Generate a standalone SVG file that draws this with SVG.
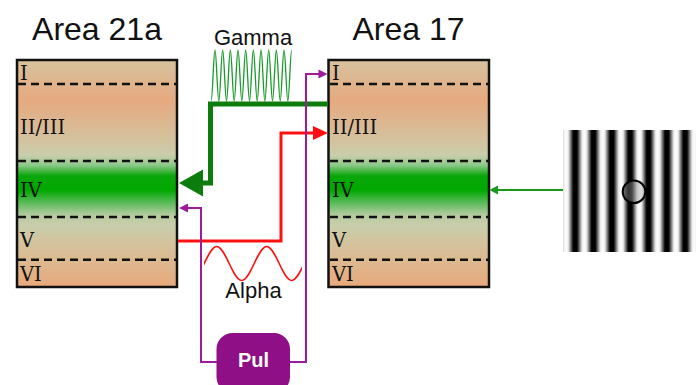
<svg xmlns="http://www.w3.org/2000/svg" width="696" height="385" viewBox="0 0 696 385">
<style>
.title{font-family:"Liberation Sans",Arial,sans-serif;font-size:32px;fill:#111;text-anchor:middle}
.lbl{font-family:"Liberation Sans",Arial,sans-serif;font-size:22px;fill:#111;text-anchor:middle}
.layer{font-family:"DejaVu Serif","Liberation Serif",serif;font-size:19.5px;fill:#111}
.box{stroke:#111;stroke-width:2.5}
.dash{stroke:#111;stroke-width:2.5;stroke-dasharray:8 5;fill:none}
.purple{stroke:#9c1c9c;stroke-width:2;fill:none}
</style>
<defs>
<linearGradient id="cortex" x1="0" y1="0" x2="0" y2="1">
<stop offset="0" stop-color="#d6c39e"/>
<stop offset="0.176" stop-color="#e6a980"/>
<stop offset="0.352" stop-color="#d4c29e"/>
<stop offset="0.42" stop-color="#c9cdab"/>
<stop offset="0.463" stop-color="#8ec98a"/>
<stop offset="0.51" stop-color="#0aa60a"/>
<stop offset="0.573" stop-color="#00a800"/>
<stop offset="0.63" stop-color="#5cbc5c"/>
<stop offset="0.683" stop-color="#b5cba0"/>
<stop offset="0.727" stop-color="#c9cdab"/>
<stop offset="0.837" stop-color="#d8bf98"/>
<stop offset="1" stop-color="#e8a97c"/>
</linearGradient>
<linearGradient id="stripe" x1="0" y1="0" x2="1" y2="0">
<stop offset="0" stop-color="#fff"/>
<stop offset="0.12" stop-color="#eee"/>
<stop offset="0.3" stop-color="#555"/>
<stop offset="0.4" stop-color="#000"/>
<stop offset="0.6" stop-color="#000"/>
<stop offset="0.7" stop-color="#555"/>
<stop offset="0.88" stop-color="#eee"/>
<stop offset="1" stop-color="#fff"/>
</linearGradient>
<pattern id="grat" patternUnits="userSpaceOnUse" x="566" y="130" width="18.33" height="122">
<rect x="0" y="0" width="18.33" height="122" fill="url(#stripe)"/>
</pattern>
<linearGradient id="spot" x1="0" y1="0" x2="1" y2="0">
<stop offset="0" stop-color="#222"/>
<stop offset="1" stop-color="#eee"/>
</linearGradient>
<clipPath id="alphaclip"><rect x="204" y="230" width="98" height="60"/></clipPath>
</defs>

<g id="area21a">
<text class="title" x="97" y="40">Area 21a</text>
<rect class="box" x="17" y="60" width="160" height="227" fill="url(#cortex)"/>
<line class="dash" x1="18" y1="84" x2="176" y2="84"/>
<line class="dash" x1="18" y1="161" x2="176" y2="161"/>
<line class="dash" x1="18" y1="217" x2="176" y2="217"/>
<line class="dash" x1="18" y1="259.7" x2="176" y2="259.7"/>
<text class="layer" x="20" y="80">I</text>
<text class="layer" x="20" y="134">II/III</text>
<text class="layer" x="20" y="197">IV</text>
<text class="layer" x="20" y="247">V</text>
<text class="layer" x="20" y="281">VI</text>
</g>

<g id="area17">
<text class="title" x="408.5" y="40">Area 17</text>
<rect class="box" x="328.5" y="60" width="160.5" height="227" fill="url(#cortex)"/>
<line class="dash" x1="330" y1="84" x2="488" y2="84"/>
<line class="dash" x1="330" y1="161" x2="488" y2="161"/>
<line class="dash" x1="330" y1="217" x2="488" y2="217"/>
<line class="dash" x1="330" y1="259.7" x2="488" y2="259.7"/>
<text class="layer" x="332" y="80">I</text>
<text class="layer" x="332" y="134">II/III</text>
<text class="layer" x="332" y="197">IV</text>
<text class="layer" x="332" y="247">V</text>
<text class="layer" x="332" y="281">VI</text>
</g>

<g id="grating">
<rect x="563" y="130" width="133" height="122" fill="url(#grat)"/>
<circle cx="634" cy="191.7" r="11.3" fill="url(#spot)" fill-opacity="0.6" stroke="#000" stroke-width="2"/>
</g>

<g id="pul">
<rect x="216.5" y="333" width="73.5" height="60" rx="16" fill="#8f0f86"/>
<text x="253.5" y="367" font-family="Liberation Sans,Arial,sans-serif" font-size="20" font-weight="bold" fill="#fff" text-anchor="middle">Pul</text>
</g>

<g id="gamma">
<text class="lbl" x="253" y="45">Gamma</text>
<path d="M211.165,101 C212.545,101 213.62,50 215,50 S217.455,101 218.835,101 S221.29,50 222.67,50 S225.125,101 226.505,101 S228.96,50 230.34,50 S232.795,101 234.175,101 S236.63,50 238.01,50 S240.465,101 241.845,101 S244.3,50 245.68,50 S248.135,101 249.515,101 S251.97,50 253.35,50 S255.805,101 257.185,101 S259.64,50 261.02,50 S263.475,101 264.855,101 S267.31,50 268.69,50 S271.145,101 272.525,101 S274.98,50 276.36,50 S278.815,101 280.195,101 S282.65,50 284.03,50 S286.485,101 287.865,101 S290.32,50 291.7,50" fill="none" stroke="#1a9a2a" stroke-width="1.3"/>
</g>

<g id="alpha">
<text class="lbl" x="253.5" y="298">Alpha</text>
<path clip-path="url(#alphaclip)" d="M191.7,280.5 C200.7,280.5 207.7,246.5 216.7,246.5 S232.7,280.5 241.7,280.5 S257.7,246.5 266.7,246.5 S282.7,280.5 291.7,280.5 S307.7,246.5 316.7,246.5" fill="none" stroke="#ff1010" stroke-width="1.6"/>
</g>

<g id="connectors">
<path d="M328,104 L210.5,104 L210.5,183 L201,183" fill="none" stroke="#0c7d0c" stroke-width="5"/>
<polygon points="179,183 203,169.5 203,196.5" fill="#0c7d0c"/>
<path d="M178,241 L281,241 L281,133 L315,133" fill="none" stroke="#ff1010" stroke-width="3"/>
<polygon points="328,133 313,126 313,140" fill="#ff1010"/>
<path class="purple" d="M217,362 L201,362 L201,208 L187,208"/>
<polygon points="179,208 188,203.5 188,212.5" fill="#9c1c9c"/>
<path class="purple" d="M290,362 L306,362 L306,74 L319,74"/>
<polygon points="327.5,74 318.5,69.5 318.5,78.5" fill="#9c1c9c"/>
<path d="M563,190 L497,190" fill="none" stroke="#1a9a1a" stroke-width="2"/>
<polygon points="489.5,190 498,185.5 498,194.5" fill="#1a9a1a"/>
</g>
</svg>
